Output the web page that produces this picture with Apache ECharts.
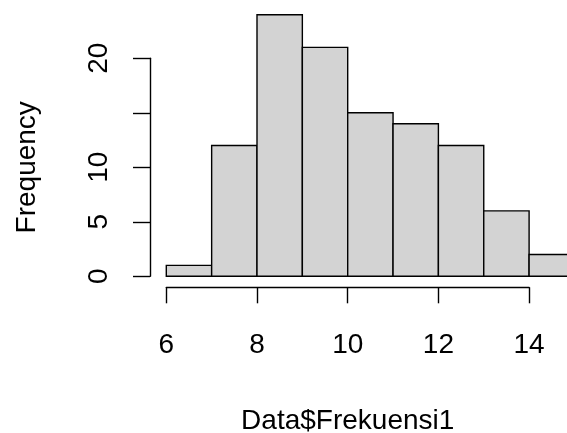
<!DOCTYPE html>
<html><head><meta charset="utf-8">
<script src="https://cdn.jsdelivr.net/npm/echarts@6/dist/echarts.min.js"></script>
<style>html,body{margin:0;padding:0;background:#fff}#c{width:567px;height:433px}</style>
</head><body><div id="c"></div>
<script>
// Histogram data
const binStarts = [6, 7, 8, 9, 10, 11, 12, 13, 14];
const binEnds   = [7, 8, 9, 10, 11, 12, 13, 14, 15];
const counts    = [1, 12, 24, 21, 15, 14, 12, 6, 2];
const xTicks = [6, 8, 10, 12, 14];
const yTicks = [0, 5, 10, 15, 20];
const xTitle = 'Data$Frekuensi1';
const yTitle = 'Frequency';

const FONT = '"Liberation Sans", Arial, sans-serif';
const FS = 28;
const x0 = 166.3, ux = 45.35;   // x pixel of 6, px per unit
const y0 = 276.3, uy = 10.9;    // y pixel of 0, px per unit

const chart = echarts.init(document.getElementById('c'), null, {renderer: 'canvas'});
chart.setOption({
  animation: false,
  backgroundColor: '#fff',
  grid: [
    {left: x0, width: 9 * ux, top: y0 - 25 * uy, height: 25 * uy, containLabel: false, outerBoundsMode: 'none'},
    {left: 150, width: 10, top: y0 - 20 * uy, height: 20 * uy, containLabel: false, outerBoundsMode: 'none'},
    {left: x0, width: 8 * ux, top: 200, height: 287.3 - 200, containLabel: false, outerBoundsMode: 'none'}
  ],
  xAxis: [
    {gridIndex: 0, type: 'value', min: 6, max: 15, show: false},
    {gridIndex: 1, type: 'value', min: 0, max: 1, show: false},
    {gridIndex: 2, type: 'value', min: 6, max: 14, interval: 2, position: 'bottom',
     axisLine: {show: true, onZero: false, lineStyle: {color: '#000', width: 1.4}},
     axisTick: {show: true, inside: false, length: 16, lineStyle: {color: '#000', width: 1.4}},
     axisLabel: {show: true, margin: 44, color: '#000', fontSize: FS, fontFamily: FONT,
       customValues: xTicks},
     splitLine: {show: false},
     name: xTitle, nameLocation: 'middle', nameGap: 120,
     nameTextStyle: {color: '#000', fontSize: FS, fontFamily: FONT}}
  ],
  yAxis: [
    {gridIndex: 0, type: 'value', min: 0, max: 25, show: false},
    {gridIndex: 1, type: 'value', min: 0, max: 20, interval: 5, position: 'left',
     axisLine: {show: true, lineStyle: {color: '#000', width: 1.4}},
     axisTick: {show: true, inside: false, length: 17, lineStyle: {color: '#000', width: 1.4}},
     axisLabel: {show: true, rotate: 90, margin: 37, color: '#000', fontSize: FS, fontFamily: FONT,
       formatter: v => (yTicks.includes(v) && v !== 15 ? String(v) : '')},
     splitLine: {show: false},
     name: yTitle, nameLocation: 'middle', nameRotate: 90, nameGap: 109,
     nameTextStyle: {color: '#000', fontSize: FS, fontFamily: FONT}},
    {gridIndex: 2, type: 'value', min: 0, max: 1, show: false}
  ],
  series: [{
    type: 'custom',
    xAxisIndex: 0, yAxisIndex: 0,
    clip: false,
    data: binStarts.map((s, i) => [s, binEnds[i], counts[i]]),
    renderItem: function (params, api) {
      const p1 = api.coord([api.value(0), 0]);
      const p2 = api.coord([api.value(1), api.value(2)]);
      return {
        type: 'rect',
        shape: {x: p1[0], y: p2[1], width: p2[0] - p1[0], height: p1[1] - p2[1]},
        style: {fill: '#D3D3D3', stroke: '#000', lineWidth: 1.4}
      };
    }
  }]
});
</script></body></html>
